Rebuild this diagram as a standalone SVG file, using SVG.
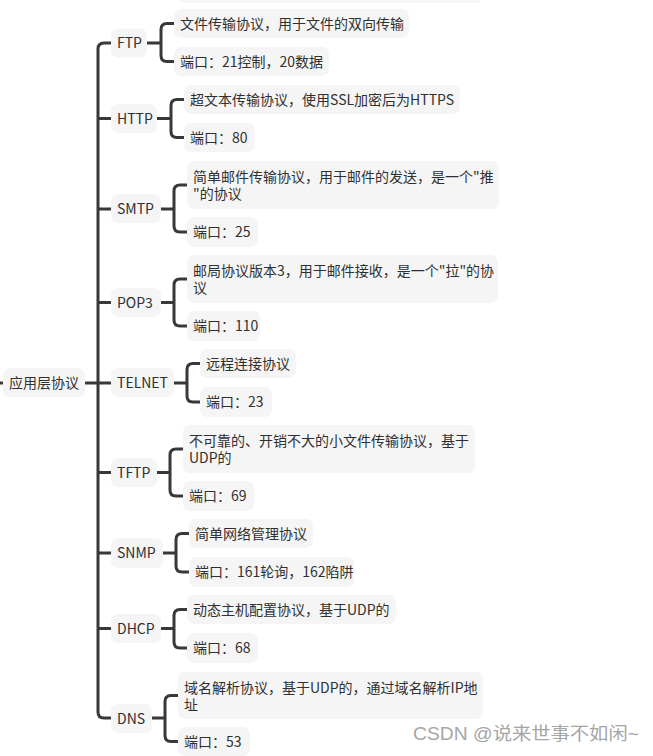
<svg xmlns="http://www.w3.org/2000/svg" width="653" height="756" viewBox="0 0 653 756">
<style>
.b{fill:#f5f5f5}
.t{font-family:"Noto Sans CJK SC","Noto Sans",sans-serif;font-size:14px;fill:#303030}
.c{fill:none;stroke:#383838;stroke-width:3;stroke-linecap:butt;stroke-linejoin:round}
.w{font-family:"Liberation Sans","Noto Sans CJK SC",sans-serif;font-size:18px;fill:#a6a6a6}
</style>
<rect width="653" height="756" fill="#ffffff"/>
<rect class="b" x="178" y="-30" width="305" height="33" rx="7"/>
<g id="connectors">
<path class="c" d="M0 383 H3"/>
<path class="c" d="M85 383 H111"/>
<path class="c" d="M111 43 H104 Q98 43 98 49 V712 Q98 718 104 718 H111"/>
<path class="c" d="M98 118.5 H111 M98 209 H111 M98 302.5 H111 M98 472.5 H111 M98 553 H111 M98 628.5 H111"/>
<path class="c" d="M147 43 H161 M174 23.5 H167 Q161 23.5 161 29.5 V55.5 Q161 61.5 167 61.5 H174"/>
<path class="c" d="M157 118.5 H171 M184 99.5 H177 Q171 99.5 171 105.5 V131.5 Q171 137.5 177 137.5 H184"/>
<path class="c" d="M161 209 H174 M187 185 H180 Q174 185 174 191 V226 Q174 232 180 232 H187"/>
<path class="c" d="M161 302.5 H174 M187 279 H180 Q174 279 174 285 V320 Q174 326 180 326 H187"/>
<path class="c" d="M174 383 H187 M200 363.5 H193 Q187 363.5 187 369.5 V396 Q187 402 193 402 H200"/>
<path class="c" d="M157 472.5 H170 M183 449 H176 Q170 449 170 455 V490 Q170 496 176 496 H183"/>
<path class="c" d="M163 553 H176 M189 533.5 H182 Q176 533.5 176 539.5 V566 Q176 572 182 572 H189"/>
<path class="c" d="M161 628.5 H174 M187 609.5 H180 Q174 609.5 174 615.5 V642 Q174 648 180 648 H187"/>
<path class="c" d="M152 718 H165 M178 695.5 H171 Q165 695.5 165 701.5 V735.5 Q165 741.5 171 741.5 H178"/>
</g>
<g id="root"><rect class="b" x="3" y="368" width="82" height="29" rx="7"/><text class="t" x="9" y="388">应用层协议</text></g>
<g id="ftp"><rect class="b" x="111" y="28.5" width="36" height="29" rx="7"/><text class="t" x="117" y="48">FTP</text></g>
<g id="ftp-1"><rect class="b" x="174" y="9" width="235" height="29" rx="7"/><text class="t" x="180" y="28.5">文件传输协议，用于文件的双向传输</text></g>
<g id="ftp-2"><rect class="b" x="174" y="47" width="155" height="29" rx="7"/><text class="t" x="180" y="66.5">端口：21控制，20数据</text></g>
<g id="http"><rect class="b" x="111" y="104" width="46" height="29" rx="7"/><text class="t" x="117" y="123.5">HTTP</text></g>
<g id="http-1"><rect class="b" x="184" y="85" width="276" height="29" rx="7"/><text class="t" x="190" y="104.5">超文本传输协议，使用SSL加密后为HTTPS</text></g>
<g id="http-2"><rect class="b" x="184" y="123" width="71" height="29" rx="7"/><text class="t" x="190" y="142.5">端口：80</text></g>
<g id="smtp"><rect class="b" x="111" y="194" width="50" height="29" rx="7"/><text class="t" x="117" y="214">SMTP</text></g>
<g id="smtp-1"><rect class="b" x="187" y="161" width="312" height="48" rx="7"/><text class="t" x="193" y="181.5">简单邮件传输协议，用于邮件的发送，是一个"推</text><text class="t" x="193" y="199">"的协议</text></g>
<g id="smtp-2"><rect class="b" x="187" y="217" width="71" height="30" rx="7"/><text class="t" x="193" y="237">端口：25</text></g>
<g id="pop3"><rect class="b" x="111" y="288" width="50" height="29" rx="7"/><text class="t" x="117" y="307.5">POP3</text></g>
<g id="pop3-1"><rect class="b" x="187" y="255" width="311" height="48" rx="7"/><text class="t" x="193" y="275.5">邮局协议版本3，用于邮件接收，是一个"拉"的协</text><text class="t" x="193" y="293">议</text></g>
<g id="pop3-2"><rect class="b" x="187" y="311" width="73" height="30" rx="7"/><text class="t" x="193" y="331">端口：110</text></g>
<g id="telnet"><rect class="b" x="111" y="368" width="63" height="29" rx="7"/><text class="t" x="117" y="388">TELNET</text></g>
<g id="telnet-1"><rect class="b" x="200" y="349" width="96" height="29" rx="7"/><text class="t" x="206" y="368.5">远程连接协议</text></g>
<g id="telnet-2"><rect class="b" x="200" y="387" width="72" height="30" rx="7"/><text class="t" x="206" y="407">端口：23</text></g>
<g id="tftp"><rect class="b" x="111" y="458" width="46" height="29" rx="7"/><text class="t" x="117" y="477.5">TFTP</text></g>
<g id="tftp-1"><rect class="b" x="183" y="425" width="292" height="48" rx="7"/><text class="t" x="189" y="445.5">不可靠的、开销不大的小文件传输协议，基于</text><text class="t" x="189" y="463">UDP的</text></g>
<g id="tftp-2"><rect class="b" x="183" y="481" width="71" height="30" rx="7"/><text class="t" x="189" y="501">端口：69</text></g>
<g id="snmp"><rect class="b" x="111" y="538" width="52" height="30" rx="7"/><text class="t" x="117" y="558">SNMP</text></g>
<g id="snmp-1"><rect class="b" x="189" y="519" width="124" height="29" rx="7"/><text class="t" x="195" y="538.5">简单网络管理协议</text></g>
<g id="snmp-2"><rect class="b" x="189" y="557" width="165" height="30" rx="7"/><text class="t" x="195" y="577">端口：161轮询，162陷阱</text></g>
<g id="dhcp"><rect class="b" x="111" y="614" width="50" height="29" rx="7"/><text class="t" x="117" y="633.5">DHCP</text></g>
<g id="dhcp-1"><rect class="b" x="187" y="595" width="209" height="29" rx="7"/><text class="t" x="193" y="614.5">动态主机配置协议，基于UDP的</text></g>
<g id="dhcp-2"><rect class="b" x="187" y="633" width="71" height="30" rx="7"/><text class="t" x="193" y="653">端口：68</text></g>
<g id="dns"><rect class="b" x="111" y="704" width="41" height="29" rx="7"/><text class="t" x="117" y="723.5">DNS</text></g>
<g id="dns-1"><rect class="b" x="178" y="672" width="305" height="47" rx="7"/><text class="t" x="184" y="692.5">域名解析协议，基于UDP的，通过域名解析IP地</text><text class="t" x="184" y="710">址</text></g>
<g id="dns-2"><rect class="b" x="178" y="727" width="72" height="29" rx="7"/><text class="t" x="184" y="746.5">端口：53</text></g>
<text class="w" x="413" y="740" textLength="226" lengthAdjust="spacingAndGlyphs">CSDN @说来世事不如闲~</text>
</svg>
